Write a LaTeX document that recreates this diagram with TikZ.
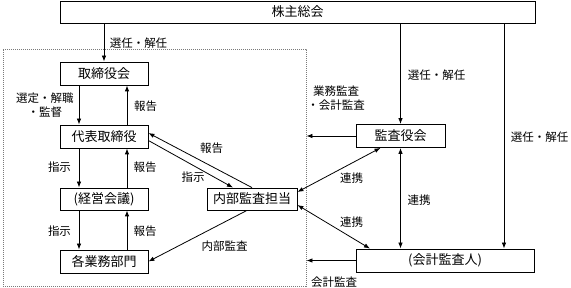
\documentclass[tikz,border=0pt]{standalone}
\usepackage{fontspec}
\setmainfont{Noto Sans CJK JP}
\usetikzlibrary{arrows.meta, positioning, calc}
\definecolor{frgray}{HTML}{7A7A7A}

\tikzset{
  box/.style={draw, line width=0.8pt, inner sep=0pt, minimum width=88pt, minimum height=23pt,
    font=\fontsize{13}{15}\selectfont},
  lbl/.style={font=\fontsize{11.5}{14}\selectfont, inner sep=0pt, align=center},
  arr/.style={line width=0.8pt, ->},
  dbl/.style={line width=0.8pt, <->},
  frame/.style={draw=frgray, line width=0.9pt, dash pattern=on 1.2pt off 0.8pt, inner sep=0pt},
}

\begin{document}
\begin{tikzpicture}[x=1pt, y=-1pt, >={Latex[length=6pt, width=4.5pt]}]
\useasboundingbox (0,0) rectangle (571,288);

% Company frame
\node[frame, minimum width=303pt, minimum height=237pt] (kaisha) at (154.5,167.5) {};

% Boxes
\node[box, minimum width=475pt, minimum height=22pt] (soukai) at (297.5,12) {株主総会};
\node[box] (board) at (104,73.5) {取締役会};
\node[box] (rep) at (104,136.5) {代表取締役};
\node[box, minimum height=22pt] (keiei) at (104,199) {(経営会議)};
\node[box] (depts) at (104,261.5) {各業務部門};
\node[box, minimum width=90pt, minimum height=22pt] (naibu) at (252,199) {内部監査担当};
\node[box, minimum width=89pt] (kansa) at (400.5,136) {監査役会};
\node[box, minimum width=178pt] (kaikei) at (445,260.5) {(会計監査人)};

% Shareholders meeting
\draw[arr] (soukai.south -| board.north) -- (board.north);
\node[lbl] (l1) at (138.5,43) {選任・解任};
\draw[arr] (soukai.south -| kansa.north) -- (kansa.north);
\node[lbl] (l2) at (436.5,75) {選任・解任};
\coordinate (kk) at ([xshift=59pt]kaikei.north);
\draw[arr] (soukai.south -| kk) -- (kk);
\node[lbl] (l3) at (539.5,137) {選任・解任};

% Inside the company
\draw[arr] ([xshift=-25pt]board.south) -- ([xshift=-25pt]rep.north);
\node[lbl] (l4) at (45,105.5) {選定・解職\\・監督};
\draw[arr] ([xshift=23pt]rep.north) -- ([xshift=23pt]board.south);
\node[lbl] (l5) at (145.5,106) {報告};

\draw[arr] ([xshift=-25pt]rep.south) -- ([xshift=-25pt]keiei.north);
\node[lbl] (l6) at (59.5,167) {指示};
\draw[arr] ([xshift=23pt]keiei.north) -- ([xshift=23pt]rep.south);
\node[lbl] (l7) at (145,167) {報告};

\draw[arr] ([xshift=-25pt]keiei.south) -- ([xshift=-25pt]depts.north);
\node[lbl] (l8) at (59.5,231) {指示};
\draw[arr] ([xshift=23pt]depts.north) -- ([xshift=23pt]keiei.south);
\node[lbl] (l9) at (145,231) {報告};

\draw[arr] (naibu.north) -- ([yshift=3.5pt]rep.east);
\node[lbl] (l10) at (211.5,148) {報告};
\draw[arr] ([yshift=-4pt]rep.east) -- ([xshift=-19pt]naibu.north);
\node[lbl] (l11) at (193,177) {指示};

\draw[arr] ([xshift=-5pt]naibu.south) -- (depts.east);
\node[lbl] (l12) at (224.5,246) {内部監査};

% Audits
\draw[arr] (kansa.west) -- (kansa.west -| kaisha.east);
\node[lbl] (l13) at (336,98) {業務監査\\・会計監査};
\draw[arr] (kaikei.west) -- (kaikei.west -| kaisha.east);
\node[lbl] (l14) at (334,282) {会計監査};

% Cooperation
\draw[dbl] ([xshift=-20pt]kansa.south) -- ([yshift=7pt]naibu.east);
\node[lbl] (l15) at (351.5,178) {連携};
\draw[dbl] (kansa.south) -- (kansa.south |- kaikei.north);
\node[lbl] (l16) at (419,200) {連携};
\draw[dbl] ([yshift=-6pt]naibu.east) -- ([xshift=-75pt]kaikei.north);
\node[lbl] (l17) at (351.5,222) {連携};

\end{tikzpicture}
\end{document}
